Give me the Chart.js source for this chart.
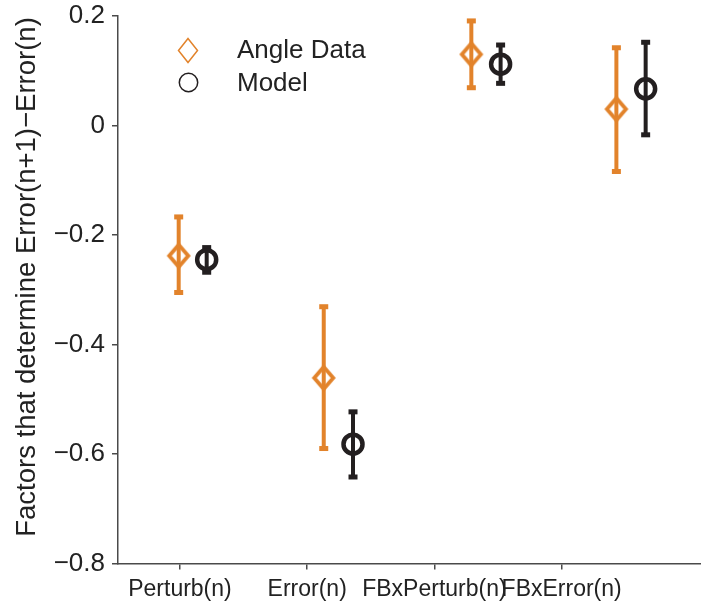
<!DOCTYPE html>
<html><head><meta charset="utf-8">
<script src="https://cdn.jsdelivr.net/npm/chart.js@4/dist/chart.umd.min.js"></script>
<style>html,body{margin:0;padding:0;background:#fff}#wrap{width:701px;height:609px;position:relative}</style>
</head><body><div id="wrap"><canvas id="c" width="701" height="609"></canvas></div>
<script>
// ---- data ----
const categories = ['Perturb(n)', 'Error(n)', 'FBxPerturb(n)', 'FBxError(n)'];
const categoryTicks = [1, 2, 3, 4];
const yTickValues = [-0.8, -0.6, -0.4, -0.2, 0, 0.2];
const seriesNames = ['Angle Data', 'Model'];
const yTitle = 'Factors that determine Error(n+1)\u2212Error(n)';

const angleX    = [0.99, 2.13, 3.29, 4.43];
const angleMean = [-0.238, -0.461, 0.130, 0.030];
const angleLow  = [-0.305, -0.590, 0.069, -0.084];
const angleHigh = [-0.167, -0.331, 0.191, 0.142];

const modelX    = [1.21, 2.36, 3.52, 4.66];
const modelMean = [-0.245, -0.582, 0.112, 0.067];
const modelLow  = [-0.268, -0.642, 0.077, -0.017];
const modelHigh = [-0.223, -0.523, 0.147, 0.152];

// ---- styles ----
const ORANGE = '#E2832B';
const BLACK = '#231F20';
const AXIS = '#4a4a4a';
const FONT = "'Liberation Sans', Arial, Helvetica, sans-serif";

function fmt(v) {
  if (Math.abs(v) < 1e-9) return '0';
  return (v < 0 ? '\u2212' : '') + Math.abs(v).toFixed(1);
}

// hollow diamond marker image (slightly taller than wide)
function diamondMarker(color, hw, hh, lw) {
  const c = document.createElement('canvas');
  c.width = 32; c.height = 34;
  const g = c.getContext('2d');
  const cx = c.width / 2, cy = c.height / 2;
  g.strokeStyle = color; g.lineWidth = lw; g.lineJoin = 'miter';
  g.beginPath();
  g.moveTo(cx, cy - hh); g.lineTo(cx + hw, cy); g.lineTo(cx, cy + hh); g.lineTo(cx - hw, cy);
  g.closePath(); g.stroke();
  return c;
}

const errorBars = {
  id: 'errorBars',
  beforeDatasetsDraw(chart) {
    const ctx = chart.ctx, xs = chart.scales.x, ys = chart.scales.y;
    chart.data.datasets.forEach(ds => {
      ctx.save();
      ctx.strokeStyle = ds.borderColor;
      ctx.fillStyle = ds.borderColor;
      ctx.lineWidth = 4;
      ds.data.forEach((p, i) => {
        const px = xs.getPixelForValue(p.x);
        const pl = ys.getPixelForValue(ds.low[i]);
        const ph = ys.getPixelForValue(ds.high[i]);
        ctx.beginPath();
        ctx.moveTo(px, pl);
        ctx.lineTo(px, ph);
        ctx.stroke();
        ctx.fillRect(px - 4.5, ph - 2.5, 9, 5);
        ctx.fillRect(px - 4.5, pl - 2.5, 9, 5);
      });
      ctx.restore();
    });
  }
};

const customText = {
  id: 'customText',
  afterDraw(chart) {
    const ctx = chart.ctx;
    ctx.save();
    // legend
    ctx.strokeStyle = ORANGE; ctx.lineWidth = 1.5;
    ctx.beginPath();
    ctx.moveTo(188, 38.5); ctx.lineTo(197.5, 50.5); ctx.lineTo(188, 62.5); ctx.lineTo(178.5, 50.5);
    ctx.closePath(); ctx.stroke();
    ctx.strokeStyle = BLACK;
    ctx.beginPath(); ctx.arc(188.5, 82.5, 9.2, 0, Math.PI * 2); ctx.stroke();
    ctx.fillStyle = '#222';
    ctx.font = '26px ' + FONT;
    ctx.textBaseline = 'middle';
    ctx.textAlign = 'left';
    ctx.fillText(seriesNames[0], 237, 51);
    ctx.fillText(seriesNames[1], 237, 84);
    // y axis title
    ctx.translate(35, 277);
    ctx.rotate(-Math.PI / 2);
    ctx.textAlign = 'center';
    ctx.textBaseline = 'alphabetic';
    ctx.font = '27.5px ' + FONT;
    ctx.fillText(yTitle, 0, 0);
    ctx.restore();
  }
};

new Chart(document.getElementById('c'), {
  type: 'scatter',
  data: {
    datasets: [
      {
        label: seriesNames[0],
        data: angleX.map((x, i) => ({ x, y: angleMean[i] })),
        low: angleLow, high: angleHigh,
        borderColor: ORANGE, backgroundColor: 'rgba(0,0,0,0)',
        pointStyle: diamondMarker(ORANGE, 9.5, 11, 3.8), pointRadius: 10,
        pointHoverRadius: 10, clip: false
      },
      {
        label: seriesNames[1],
        data: modelX.map((x, i) => ({ x, y: modelMean[i] })),
        low: modelLow, high: modelHigh,
        borderColor: BLACK, backgroundColor: 'rgba(0,0,0,0)',
        pointStyle: 'circle', pointRadius: 9.5, pointBorderWidth: 4.5,
        pointHoverRadius: 9.5, clip: false
      }
    ]
  },
  options: {
    responsive: false,
    devicePixelRatio: 1,
    animation: false,
    layout: { autoPadding: false, padding: { top: 16, right: 0, bottom: 0, left: 0 } },
    plugins: { legend: { display: false }, tooltip: { enabled: false } },
    scales: {
      x: {
        type: 'linear',
        min: 0.513, max: 5.095,
        afterBuildTicks: s => { s.ticks = categoryTicks.map(v => ({ value: v })); },
        afterFit: s => { s.height = 45.5; s.paddingLeft = 0; s.paddingRight = 0; },
        ticks: {
          callback: v => categories[categoryTicks.indexOf(v)],
          font: { family: FONT, size: 23 }, color: '#222', padding: 6, maxRotation: 0, autoSkip: false
        },
        grid: { drawOnChartArea: false, drawTicks: true, tickLength: 6, color: AXIS, lineWidth: 1.5 },
        border: { display: true, color: AXIS, width: 1.5 }
      },
      y: {
        min: -0.8, max: 0.2,
        afterBuildTicks: s => { s.ticks = yTickValues.map(v => ({ value: v })); },
        afterFit: s => { s.width = 118; s.paddingTop = 0; s.paddingBottom = 0; },
        ticks: {
          callback: v => fmt(v),
          font: { family: FONT, size: 26 }, color: '#222', padding: 7
        },
        grid: { drawOnChartArea: false, drawTicks: true, tickLength: 6, color: AXIS, lineWidth: 1.5 },
        border: { display: true, color: AXIS, width: 1.5 }
      }
    }
  },
  plugins: [errorBars, customText]
});
</script></body></html>
